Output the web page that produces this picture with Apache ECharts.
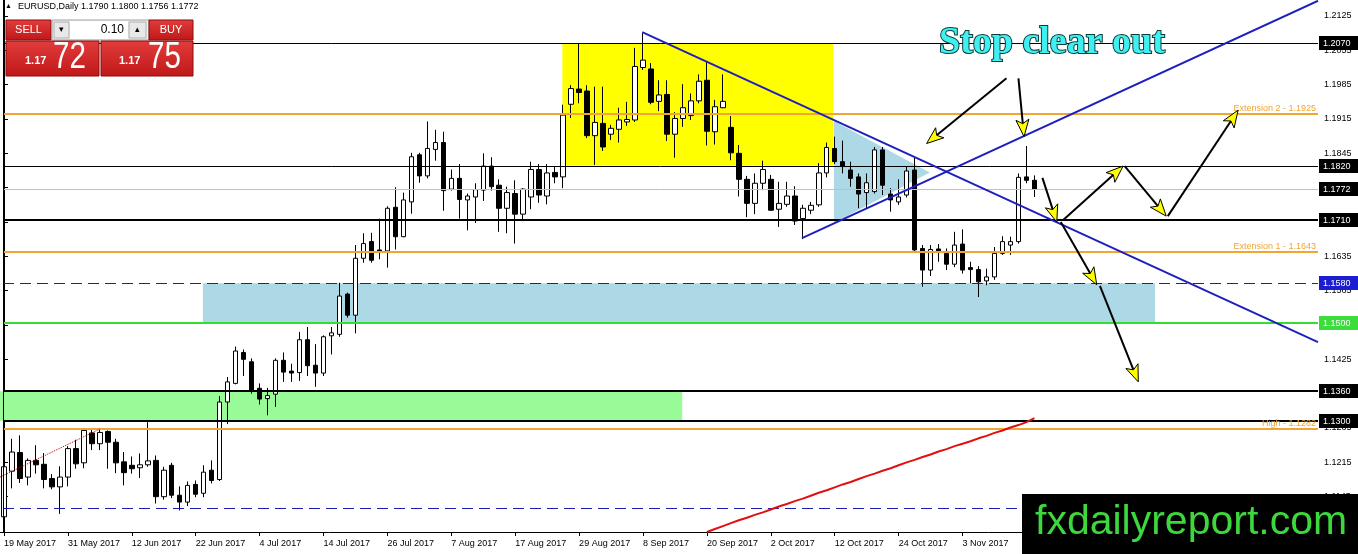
<!DOCTYPE html>
<html><head><meta charset="utf-8">
<script src="https://cdn.jsdelivr.net/npm/echarts@6/dist/echarts.min.js"></script>
<style>html,body{margin:0;padding:0;background:#fff;overflow:hidden}#c{width:1358px;height:554px}</style>
</head><body><div id="c"></div>
<script>
// ---------- data ----------
const symbol = 'EURUSD,Daily';
const dates = [
'19 May 2017','22 May 2017','23 May 2017','24 May 2017','25 May 2017','26 May 2017','29 May 2017','30 May 2017','31 May 2017',
'1 Jun 2017','2 Jun 2017','5 Jun 2017','6 Jun 2017','7 Jun 2017','8 Jun 2017','9 Jun 2017','12 Jun 2017','13 Jun 2017','14 Jun 2017','15 Jun 2017','16 Jun 2017','19 Jun 2017','20 Jun 2017','21 Jun 2017','22 Jun 2017','23 Jun 2017','26 Jun 2017','27 Jun 2017','28 Jun 2017','29 Jun 2017','30 Jun 2017',
'3 Jul 2017','4 Jul 2017','5 Jul 2017','6 Jul 2017','7 Jul 2017','10 Jul 2017','11 Jul 2017','12 Jul 2017','13 Jul 2017','14 Jul 2017','17 Jul 2017','18 Jul 2017','19 Jul 2017','20 Jul 2017','21 Jul 2017','24 Jul 2017','25 Jul 2017','26 Jul 2017','27 Jul 2017','28 Jul 2017','31 Jul 2017',
'1 Aug 2017','2 Aug 2017','3 Aug 2017','4 Aug 2017','7 Aug 2017','8 Aug 2017','9 Aug 2017','10 Aug 2017','11 Aug 2017','14 Aug 2017','15 Aug 2017','16 Aug 2017','17 Aug 2017','18 Aug 2017','21 Aug 2017','22 Aug 2017','23 Aug 2017','24 Aug 2017','25 Aug 2017','28 Aug 2017','29 Aug 2017','30 Aug 2017','31 Aug 2017',
'1 Sep 2017','4 Sep 2017','5 Sep 2017','6 Sep 2017','7 Sep 2017','8 Sep 2017','11 Sep 2017','12 Sep 2017','13 Sep 2017','14 Sep 2017','15 Sep 2017','18 Sep 2017','19 Sep 2017','20 Sep 2017','21 Sep 2017','22 Sep 2017','25 Sep 2017','26 Sep 2017','27 Sep 2017','28 Sep 2017','29 Sep 2017',
'2 Oct 2017','3 Oct 2017','4 Oct 2017','5 Oct 2017','6 Oct 2017','9 Oct 2017','10 Oct 2017','11 Oct 2017','12 Oct 2017','13 Oct 2017','16 Oct 2017','17 Oct 2017','18 Oct 2017','19 Oct 2017','20 Oct 2017','23 Oct 2017','24 Oct 2017','25 Oct 2017','26 Oct 2017','27 Oct 2017','30 Oct 2017','31 Oct 2017',
'1 Nov 2017','2 Nov 2017','3 Nov 2017','6 Nov 2017','7 Nov 2017','8 Nov 2017','9 Nov 2017','10 Nov 2017','13 Nov 2017','14 Nov 2017','15 Nov 2017','16 Nov 2017'];
const emptySlots = 35; // blank space to the right of the last bar

const opens = [1.1104,1.1197,1.1235,1.1185,1.1219,1.1211,1.1182,1.1165,1.1185,1.1243,1.1214,1.1275,1.1253,1.1278,1.1256,1.1216,1.1209,1.1204,1.1210,1.1219,1.1145,1.1209,1.1148,1.1134,1.1170,1.1152,1.1199,1.1180,1.1338,1.1376,1.1439,1.1420,1.1366,1.1345,1.1354,1.1423,1.1401,1.1398,1.1465,1.1413,1.1397,1.1473,1.1476,1.1558,1.1515,1.1631,1.1665,1.1648,1.1646,1.1735,1.1675,1.1746,1.1842,1.1799,1.1853,1.1867,1.1772,1.1794,1.1750,1.1756,1.1770,1.1819,1.1780,1.1733,1.1763,1.1721,1.1756,1.1812,1.1758,1.1806,1.1797,1.1945,1.1976,1.1972,1.1881,1.1906,1.1884,1.1894,1.1909,1.1913,1.2020,1.2017,1.1951,1.1965,1.1884,1.1916,1.1922,1.1952,1.1994,1.1889,1.1938,1.1898,1.1845,1.1792,1.1743,1.1784,1.1792,1.1731,1.1741,1.1758,1.1712,1.1729,1.1740,1.1805,1.1855,1.1828,1.1811,1.1797,1.1765,1.1767,1.1852,1.1762,1.1746,1.1760,1.1811,1.1651,1.1607,1.1650,1.1641,1.1619,1.1660,1.1612,1.1608,1.1585,1.1593,1.1641,1.1658,1.1665,1.1797,1.1790];
const highs = [1.1216,1.1263,1.1270,1.1223,1.1250,1.1234,1.1191,1.1207,1.1248,1.1261,1.1282,1.1284,1.1284,1.1280,1.1263,1.1236,1.1227,1.1233,1.1297,1.1229,1.1206,1.1214,1.1166,1.1176,1.1178,1.1209,1.1219,1.1350,1.1389,1.1451,1.1445,1.1427,1.1376,1.1367,1.1427,1.1439,1.1416,1.1481,1.1491,1.1456,1.1474,1.1491,1.1581,1.1561,1.1658,1.1682,1.1683,1.1712,1.1737,1.1776,1.1765,1.1846,1.1846,1.1910,1.1893,1.1889,1.1812,1.1823,1.1763,1.1784,1.1845,1.1837,1.1792,1.1777,1.1790,1.1774,1.1828,1.1823,1.1823,1.1817,1.1944,1.1984,1.2069,1.1984,1.1981,1.1981,1.1903,1.1938,1.1950,1.2060,1.2090,1.2029,1.1994,1.1994,1.1929,1.1986,1.1967,1.2006,1.2031,1.1954,1.2006,1.1921,1.1862,1.1799,1.1804,1.1830,1.1801,1.1787,1.1787,1.1778,1.1740,1.1746,1.1825,1.1867,1.1879,1.1871,1.1828,1.1804,1.1804,1.1858,1.1858,1.1774,1.1792,1.1818,1.1838,1.1658,1.1658,1.1660,1.1651,1.1685,1.1690,1.1624,1.1615,1.1610,1.1654,1.1676,1.1675,1.1804,1.1860,1.1800];
const lows = [1.1097,1.1162,1.1173,1.1168,1.1192,1.1162,1.1160,1.1110,1.1166,1.1202,1.1203,1.1240,1.1240,1.1202,1.1193,1.1168,1.1192,1.1183,1.1206,1.1131,1.1139,1.1142,1.1117,1.1126,1.1144,1.1144,1.1172,1.1177,1.1293,1.1374,1.1391,1.1355,1.1333,1.1311,1.1328,1.1379,1.1379,1.1381,1.1391,1.1369,1.1391,1.1435,1.1471,1.1510,1.1478,1.1622,1.1622,1.1629,1.1612,1.1649,1.1674,1.1722,1.1785,1.1794,1.1830,1.1728,1.1769,1.1712,1.1688,1.1703,1.1748,1.1769,1.1685,1.1682,1.1661,1.1709,1.1731,1.1744,1.1741,1.1784,1.1774,1.1917,1.1947,1.1876,1.1821,1.1850,1.1872,1.1867,1.1901,1.1909,1.2015,1.1945,1.1931,1.1870,1.1836,1.1899,1.1913,1.1947,1.1861,1.1863,1.1937,1.1831,1.1757,1.1715,1.1721,1.1770,1.1728,1.1695,1.1736,1.1699,1.1670,1.1721,1.1736,1.1796,1.1823,1.1804,1.1777,1.1733,1.1733,1.1763,1.1760,1.1726,1.1740,1.1755,1.1644,1.1573,1.1595,1.1624,1.1607,1.1613,1.1600,1.1580,1.1552,1.1576,1.1587,1.1638,1.1638,1.1661,1.1784,1.1756];
const closes = [1.1206,1.1236,1.1182,1.1219,1.1210,1.1180,1.1165,1.1185,1.1243,1.1212,1.1280,1.1253,1.1276,1.1256,1.1214,1.1194,1.1202,1.1210,1.1218,1.1145,1.1199,1.1148,1.1134,1.1168,1.1150,1.1195,1.1178,1.1338,1.1379,1.1442,1.1425,1.1362,1.1344,1.1351,1.1423,1.1399,1.1397,1.1465,1.1412,1.1397,1.1471,1.1479,1.1554,1.1515,1.1631,1.1661,1.1627,1.1644,1.1733,1.1675,1.1750,1.1838,1.1799,1.1855,1.1867,1.1769,1.1794,1.1751,1.1758,1.1771,1.1819,1.1777,1.1733,1.1765,1.1721,1.1772,1.1812,1.1760,1.1805,1.1797,1.1923,1.1977,1.1969,1.1881,1.1908,1.1858,1.1896,1.1913,1.1914,1.2022,1.2035,1.1949,1.1964,1.1884,1.1916,1.1938,1.1952,1.1992,1.1890,1.1940,1.1951,1.1846,1.1792,1.1743,1.1784,1.1812,1.1729,1.1743,1.1758,1.1707,1.1733,1.1739,1.1805,1.1857,1.1828,1.1818,1.1794,1.1762,1.1785,1.1852,1.1780,1.1750,1.1756,1.1809,1.1648,1.1607,1.1649,1.1646,1.1619,1.1658,1.1607,1.1608,1.1583,1.1593,1.1641,1.1665,1.1665,1.1796,1.1790,1.1772];

// red moving average, first value belongs to bar maStart
const maStart = 88;
const maValues = [1.1073,1.1079,1.1085,1.1091,1.1097,1.1102,1.1108,1.1113,1.1119,1.1125,1.1130,1.1136,1.1141,1.1147,1.1153,1.1158,1.1164,1.1170,1.1175,1.1181,1.1187,1.1192,1.1198,1.1203,1.1209,1.1215,1.1220,1.1226,1.1231,1.1237,1.1242,1.1248,1.1253,1.1258,1.1264,1.1269,1.1275,1.1280,1.1286,1.1291,1.1297,1.1305];

// price axis tick labels
const yTicks = [1.2125,1.2055,1.1985,1.1915,1.1845,1.1775,1.1705,1.1635,1.1565,1.1495,1.1425,1.1355,1.1285,1.1215,1.1145];

// horizontal levels
const levelPrices = [1.2070,1.1925,1.1820,1.1772,1.1710,1.1643,1.1580,1.1500,1.1360,1.1300,1.1282,1.1122];
const levelTexts  = ['','Extension 2 - 1.1925','','','','Extension 1 - 1.1643','','','','','High - 1.1282',''];
const levelKinds  = ['thin','orange','thin','grey','thick','orange','dash','green','thick','thick','orange','dash'];

// zones: [barFrom, barTo, priceTop, priceBottom]
const zoneYellow = [69.9, 103.8, 1.2070, 1.1820];
const zoneBlue   = [24.9, 144.1, 1.1580, 1.1500];
const zoneGreen  = [-0.5, 84.9, 1.1360, 1.1300];
// triangle vertices [bar, price]
const triangle = [[103.9,1.1911],[103.9,1.1703],[115.9,1.1806]];

// trend lines [bar, price]
const trendDown = [[79.9,1.2092],[164.5,1.1460]];
const trendUp   = [[99.9,1.1672],[164.5,1.2156]];
const dottedLine = [[-0.5,1.1185],[12,1.1283]];

// arrows [barFrom, priceFrom, barTo, priceTo]
const arrows = [
  [125.5,1.1998,115.5,1.1865],
  [127.0,1.1998,127.7,1.1879],
  [130.0,1.1795,131.8,1.1705],
  [132.6,1.1709,140.1,1.1819],
  [140.3,1.1819,145.5,1.1717],
  [145.7,1.1717,154.5,1.1933],
  [132.3,1.1705,136.8,1.1577],
  [137.2,1.1575,142.0,1.1379]
];

// ---------- chart ----------
const FONT = 'Liberation Sans';
const cats = dates.concat(new Array(emptySlots).fill(''));
const nCats = cats.length;
const candles = opens.map((o,i)=>[o, closes[i], lows[i], highs[i]]);
const last = opens.length - 1;

const kindStyle = {
  thin:   {color:'#000',width:1,dash:null, box:'#000'},
  thick:  {color:'#000',width:2,dash:null, box:'#000'},
  grey:   {color:'#c0c0c0',width:1,dash:null, box:'#000'},
  orange: {color:'#f0a535',width:2,dash:null, box:null},
  dash:   {color:'#1c1cb0',width:1,dash:[11,6], box:'#1c1cd0'},
  green:  {color:'#33dd33',width:2,dash:null, box:'#3ddc3d'}
};

function rectPts(z){ return [[z[0],z[2]],[z[1],z[2]],[z[1],z[3]],[z[0],z[3]]]; }
const shapes = [
  {pts:rectPts(zoneYellow), fill:'#ffff00'},
  {pts:rectPts(zoneBlue), fill:'#add8e6'},
  {pts:rectPts(zoneGreen), fill:'#98fb98'},
  {pts:triangle, fill:'#add8e6'}
];

const chart = echarts.init(document.getElementById('c'), null, {renderer:'canvas'});
const redTop = new echarts.graphic.LinearGradient(0,0,0,1,[{offset:0,color:'#e23c3c'},{offset:1,color:'#c01818'}]);

chart.setOption({
  animation:false,
  backgroundColor:'#fff',
  grid:{left:0,right:40,top:0,bottom:22,containLabel:false},
  xAxis:[
    {type:'category', data:cats, boundaryGap:true,
     axisLine:{lineStyle:{color:'#000',width:1}},
     axisTick:{show:true, interval:7, alignWithLabel:true, length:4, lineStyle:{color:'#000'}},
     axisLabel:{interval:7, align:'left', color:'#000', fontSize:9, fontFamily:FONT, margin:7},
     splitLine:{show:false}},
    {type:'value', min:-0.5, max:nCats-0.5, show:false}
  ],
  yAxis:[{type:'value', position:'right', min:1.1073, max:1.21576, scale:true,
    splitLine:{show:false},
    axisLine:{show:true, lineStyle:{color:'#000',width:1}},
    axisTick:{show:true, length:4, customValues:yTicks, lineStyle:{color:'#000'}},
    axisLabel:{customValues:yTicks, formatter:v=>Number(v).toFixed(4), color:'#000', fontSize:9, fontFamily:FONT, margin:6}
  }],
  series:[
    {type:'custom', xAxisIndex:1, yAxisIndex:0, z:1, clip:true, silent:true,
     data:shapes.map(()=>[0,1.15]),
     renderItem:(params,api)=>{
       const s = shapes[params.dataIndex];
       return {type:'polygon', shape:{points:s.pts.map(p=>api.coord(p))}, style:{fill:s.fill}};
     }},
    {type:'candlestick', xAxisIndex:0, yAxisIndex:0, z:2, data:candles, barWidth:5,
     itemStyle:{color:'#fff', color0:'#000', borderColor:'#000', borderColor0:'#000', borderWidth:1}},
    {type:'custom', xAxisIndex:1, yAxisIndex:0, z:3, clip:false, silent:true,
     data:levelPrices.map(p=>[0,p]),
     renderItem:(params,api)=>{
       const i = params.dataIndex, p = levelPrices[i], st = kindStyle[levelKinds[i]];
       const cs = params.coordSys;
       const y = api.coord([0,p])[1];
       const yy = st.width % 2 ? Math.round(y) + 0.5 : Math.round(y);
       const right = cs.x + cs.width;
       const ch = [{type:'line', shape:{x1:cs.x+3,y1:yy,x2:right,y2:yy},
                    style:{stroke:st.color, lineWidth:st.width, lineDash:st.dash}}];
       if (st.box) {
         ch.push({type:'rect', shape:{x:right+1, y:Math.round(y)-7, width:40, height:14}, style:{fill:st.box}});
         ch.push({type:'text', x:right+5, y:Math.round(y)+0.5,
                  style:{text:p.toFixed(4), fill:'#fff', font:'9px '+FONT, verticalAlign:'middle'}});
       } else if (levelTexts[i]) {
         ch.push({type:'text', x:right-2, y:Math.round(y)-1,
                  style:{text:levelTexts[i], fill:st.color, font:'9px '+FONT, align:'right', verticalAlign:'bottom'}});
       }
       return {type:'group', children:ch};
     }},
    {type:'line', xAxisIndex:1, yAxisIndex:0, z:3, data:maValues.map((v,k)=>[maStart+k,v]),
     symbol:'none', clip:true, lineStyle:{color:'#e01010',width:2}},
    {type:'line', xAxisIndex:1, yAxisIndex:0, z:3, data:dottedLine, symbol:'none',
     lineStyle:{color:'#b00000',width:1,type:'dotted'}},
    {type:'line', xAxisIndex:1, yAxisIndex:0, z:4, data:trendDown, symbol:'none', clip:true,
     lineStyle:{color:'#1f1fbf',width:2}},
    {type:'line', xAxisIndex:1, yAxisIndex:0, z:4, data:trendUp, symbol:'none', clip:true,
     lineStyle:{color:'#1f1fbf',width:2}},
    {type:'custom', xAxisIndex:1, yAxisIndex:0, z:5, clip:false, silent:true,
     data:arrows.map(()=>[0,1.15]),
     renderItem:(params,api)=>{
       const a = arrows[params.dataIndex];
       const p1 = api.coord([a[0],a[1]]), p2 = api.coord([a[2],a[3]]);
       const dx=p2[0]-p1[0], dy=p2[1]-p1[1], L=Math.hypot(dx,dy);
       const ux=dx/L, uy=dy/L, nx=-uy, ny=ux, hl=17, hw=6.5;
       const bx=p2[0]-ux*hl, by=p2[1]-uy*hl;
       return {type:'group', children:[
         {type:'line', shape:{x1:p1[0],y1:p1[1],x2:bx+ux*4,y2:by+uy*4}, style:{stroke:'#000',lineWidth:2}},
         {type:'polygon', shape:{points:[[p2[0],p2[1]],[bx+nx*hw,by+ny*hw],[bx+ux*4,by+uy*4],[bx-nx*hw,by-ny*hw]]},
          style:{fill:'#ffff00',stroke:'#000',lineWidth:1}}
       ]};
     }}
  ],
  graphic:[
    {type:'line', z:50, shape:{x1:3.5,y1:0,x2:3.5,y2:532}, style:{stroke:'#000',lineWidth:1}},
    // header
    {type:'text', z:60, left:5, top:3, style:{text:'▲', font:'7px '+FONT, fill:'#000'}},
    {type:'text', z:60, left:18, top:2, style:{text:symbol+' '+[opens[last],highs[last],lows[last],closes[last]].map(v=>v.toFixed(4)).join(' '), font:'9px '+FONT, fill:'#000'}},
    // one-click trading panel
    {type:'rect', z:60, shape:{x:6,y:20,width:45,height:20}, style:{fill:redTop, stroke:'#8a0c0c', lineWidth:1}},
    {type:'text', z:61, x:28.5, y:30, style:{text:'SELL', font:'11px '+FONT, fill:'#fff', align:'center', verticalAlign:'middle'}},
    {type:'rect', z:60, shape:{x:52,y:20,width:97,height:20}, style:{fill:'#f0f0f0', stroke:'#a0a0a0', lineWidth:1}},
    {type:'rect', z:61, shape:{x:54,y:22,width:15,height:16}, style:{fill:'#e8e8e8', stroke:'#b0b0b0', lineWidth:1}},
    {type:'text', z:62, x:61.5, y:30, style:{text:'▾', font:'9px '+FONT, fill:'#000', align:'center', verticalAlign:'middle'}},
    {type:'rect', z:61, shape:{x:70,y:21,width:58,height:18}, style:{fill:'#fff'}},
    {type:'text', z:62, x:124, y:30, style:{text:'0.10', font:'12px '+FONT, fill:'#000', align:'right', verticalAlign:'middle'}},
    {type:'rect', z:61, shape:{x:129,y:22,width:17,height:16}, style:{fill:'#e8e8e8', stroke:'#b0b0b0', lineWidth:1}},
    {type:'text', z:62, x:137.5, y:30, style:{text:'▴', font:'9px '+FONT, fill:'#000', align:'center', verticalAlign:'middle'}},
    {type:'rect', z:60, shape:{x:149,y:20,width:44,height:20}, style:{fill:redTop, stroke:'#8a0c0c', lineWidth:1}},
    {type:'text', z:61, x:171, y:30, style:{text:'BUY', font:'11px '+FONT, fill:'#fff', align:'center', verticalAlign:'middle'}},
    {type:'rect', z:60, shape:{x:6,y:41,width:93,height:35}, style:{fill:redTop, stroke:'#8a0c0c', lineWidth:1}},
    {type:'text', z:61, x:25, y:66, style:{text:'1.17', font:'bold 11px '+FONT, fill:'#fff', verticalAlign:'bottom'}},
    {type:'text', z:61, x:53, y:76, scaleX:0.8, style:{text:'72', font:'37px '+FONT, fill:'#fff', verticalAlign:'bottom'}},
    {type:'rect', z:60, shape:{x:101,y:41,width:92,height:35}, style:{fill:redTop, stroke:'#8a0c0c', lineWidth:1}},
    {type:'text', z:61, x:119, y:66, style:{text:'1.17', font:'bold 11px '+FONT, fill:'#fff', verticalAlign:'bottom'}},
    {type:'text', z:61, x:148, y:76, scaleX:0.8, style:{text:'75', font:'37px '+FONT, fill:'#fff', verticalAlign:'bottom'}},
    // annotation title
    {type:'text', z:70, x:939, y:24, style:{text:'Stop clear out', font:'bold 38px Liberation Serif', fill:'#40f0f0',
      stroke:'#0b3b3b', lineWidth:2, shadowColor:'#124848', shadowOffsetX:2, shadowOffsetY:2, shadowBlur:0}},
    // watermark
    {type:'rect', z:80, shape:{x:1022,y:494,width:336,height:60}, style:{fill:'#000'}},
    {type:'text', z:81, x:1035, y:523, style:{text:'fxdailyreport.com', font:'41px '+FONT, fill:'#3cd83c', verticalAlign:'middle'}}
  ]
});
</script></body></html>
